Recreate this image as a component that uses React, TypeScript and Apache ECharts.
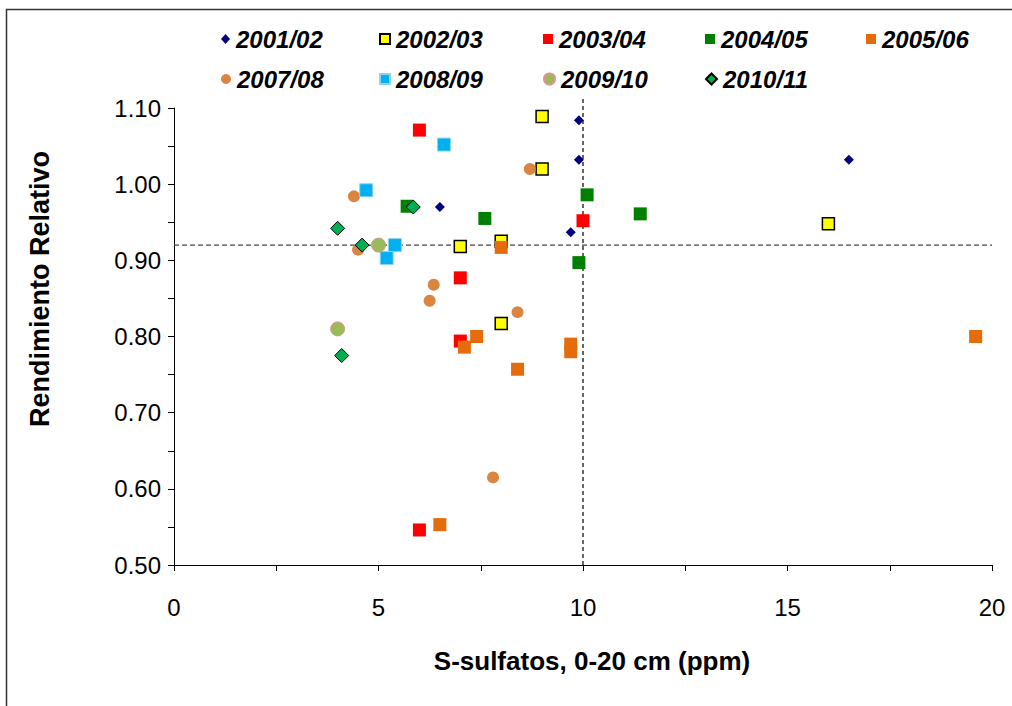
import React, { useEffect, useRef } from "react";
import * as echarts from "echarts";

// ---- data ----
const seriesNames = ["2001/02", "2002/03", "2003/04", "2004/05", "2005/06", "2007/08", "2008/09", "2009/10", "2010/11"];

const s2001_02 = [[6.5, 0.97], [9.9, 1.084], [9.9, 1.032], [9.7, 0.937], [16.5, 1.032]];
const s2002_03 = [[9.0, 1.089], [9.0, 1.02], [7.0, 0.918], [8.0, 0.925], [8.0, 0.817], [16.0, 0.948]];
const s2003_04 = [[6.0, 1.071], [10.0, 0.952], [7.0, 0.877], [7.0, 0.794], [6.0, 0.546]];
const s2004_05 = [[5.7, 0.971], [7.6, 0.955], [10.1, 0.986], [11.4, 0.961], [9.9, 0.897]];
const s2005_06 = [[8.0, 0.917], [7.4, 0.8], [7.1, 0.786], [9.7, 0.79], [9.7, 0.78], [8.4, 0.757], [6.5, 0.553], [19.6, 0.8]];
const s2007_08 = [[8.7, 1.02], [4.4, 0.984], [4.5, 0.914], [6.35, 0.868], [6.25, 0.847], [8.4, 0.832], [7.8, 0.615]];
const s2008_09 = [[6.6, 1.052], [4.7, 0.992], [5.4, 0.92], [5.2, 0.903]];
const s2009_10 = [[5.0, 0.92], [4.0, 0.81]];
const s2010_11 = [[5.85, 0.97], [4.0, 0.942], [4.6, 0.92], [4.1, 0.775]];

const seriesData = [s2001_02, s2002_03, s2003_04, s2004_05, s2005_06, s2007_08, s2008_09, s2009_10, s2010_11];

const xMin = 0;
const xMax = 20;
const xStep = 5;
const yMin = 0.5;
const yMax = 1.1;
const yStep = 0.1;
const refX = 10;
const refY = 0.92;
const refXTop = 1.112;

const refHLine = [[xMin, refY], [xMax, refY]];
const refVLine = [[refX, yMin], [refX, refXTop]];

const xTitle = "S-sulfatos, 0-20 cm (ppm)";
const yTitle = "Rendimiento Relativo";

// ---- styles ----
const seriesStyles = [
  { symbol: "diamond", size: 10, color: "#000080", border: "#000080", bw: 0, lw: 9, lh: 10 },
  { symbol: "rect", size: 12, color: "#FFFF00", border: "#000000", bw: 1.5, lw: 10, lh: 10 },
  { symbol: "rect", size: 13, color: "#FF0000", border: "#FF0000", bw: 0, lw: 10, lh: 10 },
  { symbol: "rect", size: 13, color: "#008000", border: "#008000", bw: 0, lw: 10, lh: 10 },
  { symbol: "rect", size: 13, color: "#E46C0A", border: "#E46C0A", bw: 0, lw: 10, lh: 10 },
  { symbol: "circle", size: 12, color: "#DA8641", border: "#DA8641", bw: 0, lw: 10, lh: 10 },
  { symbol: "rect", size: 13, color: "#00B0F0", border: "#8FD3F2", bw: 1, lw: 10, lh: 10 },
  { symbol: "circle", size: 14, color: "#9BBB59", border: "#D99694", bw: 1, lw: 11, lh: 11 },
  { symbol: "diamond", size: 14, color: "#00B050", border: "#000000", bw: 1, lw: 11, lh: 11 },
];

const legendPos = [
  { left: 221, top: 27 },
  { left: 379, top: 27 },
  { left: 543, top: 27 },
  { left: 705, top: 27 },
  { left: 866, top: 27 },
  { left: 221, top: 67 },
  { left: 379, top: 67 },
  { left: 543, top: 67 },
  { left: 705, top: 67 },
];

const FONT = "Arial, 'Liberation Sans', sans-serif";

export default function App() {
  const ref = useRef<HTMLDivElement>(null);

  useEffect(() => {
    document.body.style.margin = "0";
    if (!ref.current) return;
    const chart = echarts.init(ref.current, undefined, { renderer: "svg" });

    const series: any[] = seriesNames.map((name, i) => {
      const st = seriesStyles[i];
      return {
        name,
        type: "scatter",
        data: seriesData[i],
        symbol: st.symbol,
        symbolSize: st.size,
        itemStyle: { color: st.color, borderColor: st.border, borderWidth: st.bw, opacity: 1 },
        emphasis: { disabled: true },
        z: 3,
      };
    });

    series.push({
      name: "refH",
      type: "line",
      data: refHLine,
      showSymbol: false,
      symbol: "none",
      clip: false,
      silent: true,
      z: 1,
      lineStyle: { color: "#444", width: 1.4, type: [5, 3] },
    });
    series.push({
      name: "refV",
      type: "line",
      data: refVLine,
      showSymbol: false,
      symbol: "none",
      clip: false,
      silent: true,
      z: 1,
      lineStyle: { color: "#000", width: 1.2, type: [4, 3] },
    });

    const legends = seriesNames.map((name, i) => ({
      show: true,
      left: legendPos[i].left,
      top: legendPos[i].top,
      padding: 0,
      itemGap: 0,
      itemWidth: seriesStyles[i].lw,
      itemHeight: seriesStyles[i].lh,
      selectedMode: false,
      data: [name],
      textStyle: { fontFamily: FONT, fontSize: 24, fontWeight: "bold", fontStyle: "italic", color: "#000", padding: [0, 0, 0, 1] },
    }));

    chart.setOption({
      animation: false,
      backgroundColor: "#fff",
      grid: { left: 174, right: 20, top: 108, bottom: 141, containLabel: false },
      legend: legends,
      xAxis: {
        type: "value",
        min: xMin,
        max: xMax,
        interval: xStep,
        name: xTitle,
        nameLocation: "middle",
        nameGap: 83,
        nameTextStyle: { fontFamily: FONT, fontSize: 26, fontWeight: "bold", color: "#000", padding: [0, 0, 0, 18] },
        axisLine: { show: true, onZero: false, lineStyle: { color: "#000", width: 1 } },
        axisTick: { show: true, inside: false, length: 6, lineStyle: { color: "#000" } },
        minorTick: { show: true, splitNumber: 2, length: 6, lineStyle: { color: "#000" } },
        splitLine: { show: false },
        axisLabel: { fontFamily: FONT, fontSize: 24, color: "#000", margin: 30 },
      },
      yAxis: {
        type: "value",
        min: yMin,
        max: yMax,
        interval: yStep,
        axisLine: { show: true, onZero: false, lineStyle: { color: "#000", width: 1 } },
        axisTick: { show: true, inside: false, length: 6, lineStyle: { color: "#000" } },
        minorTick: { show: true, splitNumber: 2, length: 6, lineStyle: { color: "#000" } },
        splitLine: { show: false },
        axisLabel: {
          fontFamily: FONT,
          fontSize: 24,
          color: "#000",
          margin: 13,
          formatter: (v: number) => v.toFixed(2),
        },
      },
      graphic: [
        {
          type: "rect",
          silent: true,
          shape: { x: 6.5, y: 9.5, width: 1200, height: 900 },
          style: { fill: "none", stroke: "#333", lineWidth: 1.5 },
          z: -1,
        },
        {
          type: "text",
          x: 40,
          y: 289,
          rotation: Math.PI / 2,
          style: {
            text: yTitle,
            fontFamily: FONT,
            fontSize: 27,
            fontWeight: "bold",
            fill: "#000",
            align: "center",
            verticalAlign: "middle",
          },
        },
      ],
      series,
    });

    return () => chart.dispose();
  }, []);

  return <div ref={ref} style={{ width: 1012, height: 706 }} />;
}
